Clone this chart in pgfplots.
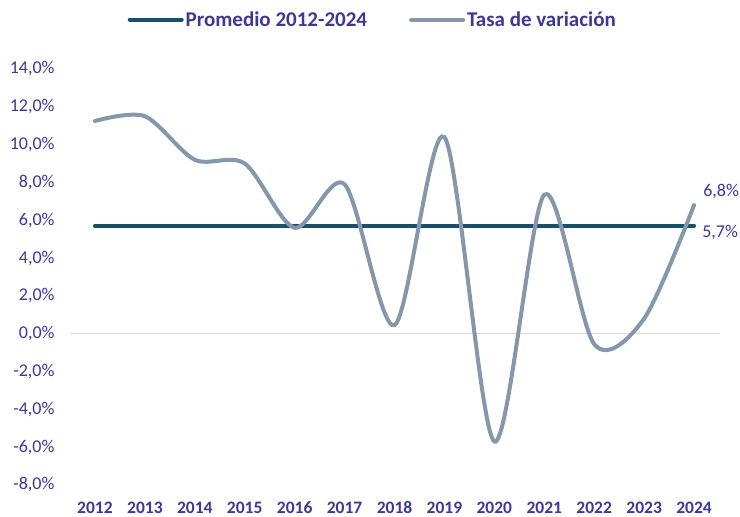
\documentclass[border=0pt]{standalone}
\usepackage{pgfplots}
\pgfplotsset{compat=1.18}
\usepackage{fontspec}
\setmainfont{Carlito}
\definecolor{txt}{RGB}{60,56,150}
\definecolor{tasa}{RGB}{132,151,171}
\definecolor{prom}{RGB}{23,80,106}
\definecolor{zero}{RGB}{217,217,217}
\begin{document}
\begin{tikzpicture}[x=1bp,y=1bp]
\useasboundingbox (0,0) rectangle (740,517);
\begin{axis}[at={(71bp,32bp)}, anchor=south west, scale only axis,
  width=649bp, height=416bp,
  xmin=-0.48, xmax=12.52, ymin=-8, ymax=14,
  axis line style={draw=none}, major tick length=0pt,
  xtick={0,...,12},
  xticklabels={2012,2013,2014,2015,2016,2017,2018,2019,2020,2021,2022,2023,2024},
  ytick={-8,-6,...,14},
  yticklabel={\pgfmathprintnumber[fixed,fixed zerofill,precision=1,use comma]{\tick}\%},
  /pgf/number format/assume math mode=true,
  typeset ticklabels with strut,
  yticklabel style={font=\fontsize{18bp}{20bp}\selectfont, text=txt, xshift=-13bp},
  xticklabel style={font=\fontsize{17.5bp}{20bp}\selectfont\bfseries, text=txt, yshift=-11bp},
  clip=false,
  legend columns=2,
  legend style={at={(0.465,1)}, anchor=south, yshift=37bp, draw=none, fill=none,
    font=\fontsize{21bp}{23bp}\selectfont\bfseries, text=txt,
    /tikz/every even column/.append style={column sep=40bp}},
  legend image code/.code={\draw[#1, line cap=round] (0bp,0bp) -- (52bp,0bp);},
]
\draw[zero, line width=1.5bp] (axis cs:-0.48,0) -- (axis cs:12.52,0);
\addplot[prom, line width=4bp, line cap=round] coordinates {(0,5.7) (12,5.7)};
\addlegendentry{Promedio 2012-2024}
\addplot[tasa, line width=4bp, line cap=round, smooth] coordinates {
(0,11.25) (1,11.5) (2,9.2) (3,9.0) (4,5.6) (5,7.9) (6,0.45) (7,10.4) (8,-5.7) (9,7.35) (10,-0.55) (11,0.8) (12,6.8)};
\addlegendentry{Tasa de variación}
\node[anchor=south west, font=\fontsize{18bp}{20bp}\selectfont, text=txt, inner sep=0pt] at ([xshift=9bp,yshift=6bp]axis cs:12,6.8) {6,8\%};
\node[anchor=west, font=\fontsize{18bp}{20bp}\selectfont, text=txt, inner sep=0pt] at ([xshift=8bp,yshift=-7bp]axis cs:12,5.7) {5,7\%};
\end{axis}
\end{tikzpicture}
\end{document}
